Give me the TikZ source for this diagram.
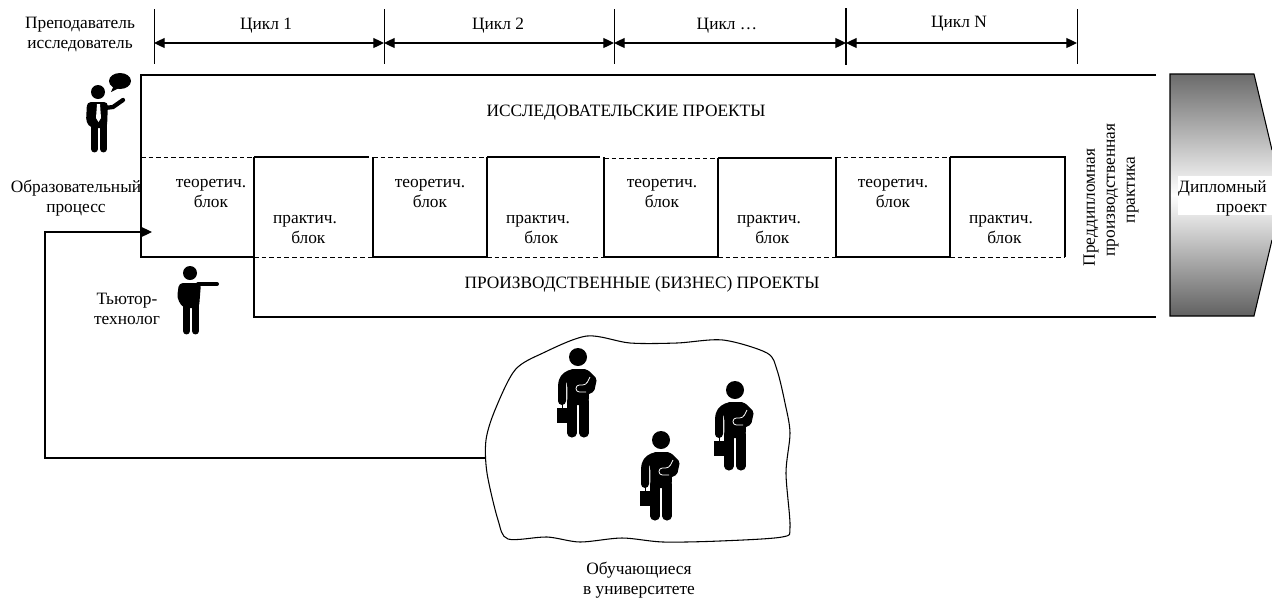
\documentclass[tikz,border=0pt]{standalone}
\usepackage{fontspec}
\setmainfont{Liberation Serif}
\usetikzlibrary{calc, arrows.meta}

\tikzset{
    label_text/.style = {align = center, font = \fontsize{13}{15}\selectfont, inner sep = 0pt},
    main_line/.style = {black, line width = 0.8pt},
    cut_line/.style = {black, line width = 0.7pt, dash pattern = on 3.5pt off 2.2pt},
    cycle_span/.style = {black, line width = 0.9pt, {Triangle[length = 8pt, width = 7.5pt]}-{Triangle[length = 8pt, width = 7.5pt]}},
    pics/head_body/.style = {code = {
        \fill (0, 0) circle (9);
        \draw[line width = 6.8pt, line cap = round] (-6, 44) -- (-6, 76);
        \draw[line width = 6.8pt, line cap = round] (6, 44) -- (6, 76);
        \fill[rounded corners = 4pt] (-11, 12) -- (12, 12) -- (10.5, 48) -- (-10.5, 48) -- cycle;
    }},
    pics/student/.style = {code = {
        \pic {head_body};
        \draw[line width = 6pt, line cap = round, line join = round] (-8, 17) .. controls (-13, 19) and (-16, 23) .. (-16, 29) -- (-16, 44);
        \draw[line width = 5.4pt, line cap = round, line join = round] (9, 17) -- (15, 23) -- (13, 32) -- (5, 36);
        \draw[line width = 0.7pt] (-16, 46) -- (-16, 52);
        \fill (-21, 51) rectangle (-11, 66);
        \draw[white, line width = 0.6pt, rounded corners = 2.5pt] (8, 35) -- (-2, 35) -- (-2, 28) -- (8, 28) -- (12, 20);
    }}
}

\begin{document}
\begin{tikzpicture}[x = 0.75pt, y = -0.75pt]
    \useasboundingbox (0, 0) rectangle (1272, 597);

    % cycles along the top
    \coordinate (tick_a) at (154, 43);
    \coordinate (tick_b) at (384, 43);
    \coordinate (tick_c) at (614, 43);
    \coordinate (tick_d) at (846, 43);
    \coordinate (tick_e) at (1077, 43);

    \draw[black, line width = 0.7pt] (154, 9) -- (154, 64);
    \draw[black, line width = 0.7pt] (384, 9) -- (384, 64);
    \draw[black, line width = 0.7pt] (614, 9) -- (614, 64);
    \draw[black, line width = 1.3pt] (846, 8) -- (846, 65);
    \draw[black, line width = 0.7pt] (1077, 9) -- (1077, 64);

    \draw[cycle_span] (tick_a) -- (tick_b);
    \draw[cycle_span] (tick_b) -- (tick_c);
    \draw[cycle_span] (tick_c) -- (tick_d);
    \draw[cycle_span] (tick_d) -- (tick_e);

    \node[label_text] (cycle_a) at (266, 26) {Цикл 1};
    \node[label_text] (cycle_b) at (498, 26) {Цикл 2};
    \node[label_text] (cycle_c) at (727, 26) {Цикл …};
    \node[label_text] (cycle_d) at (959, 24) {Цикл N};

    % outer frame of the projects
    \draw[main_line] (1156, 75) -- (141, 75) -- (141, 257) -- (254, 257);
    \draw[main_line] (1156, 317) -- (254, 317) -- (254, 157);

    % blocks
    \draw[cut_line] (141, 157) -- (254, 157);
    \draw[main_line] (254, 157) -- (369, 157);
    \draw[cut_line] (373, 157) -- (487, 157);
    \draw[main_line] (487, 157) -- (600, 157);
    \draw[cut_line] (604, 158) -- (718, 158);
    \draw[main_line] (718, 158) -- (832, 158);
    \draw[cut_line] (836, 157) -- (950, 157);
    \draw[main_line] (950, 157) -- (1065, 157) -- (1065, 257);

    \draw[cut_line] (254, 257) -- (373, 257);
    \draw[main_line] (373, 157) -- (373, 257) -- (487, 257) -- (487, 157);
    \draw[cut_line] (487, 257) -- (604, 257);
    \draw[main_line] (604, 157) -- (604, 257) -- (718, 257) -- (718, 158);
    \draw[cut_line] (718, 257) -- (836, 257);
    \draw[main_line] (836, 157) -- (836, 257) -- (950, 257) -- (950, 157);
    \draw[cut_line] (950, 257) -- (1065, 257);

    \node[label_text] (theory_a) at (211, 193.5) {теоретич.\\блок};
    \node[label_text] (theory_b) at (430, 193.5) {теоретич.\\блок};
    \node[label_text] (theory_c) at (662, 193.5) {теоретич.\\блок};
    \node[label_text] (theory_d) at (893, 193.5) {теоретич.\\блок};
    \node[label_text] (practice_a) at (305, 229) {практич.\\\hspace*{5pt}блок};
    \node[label_text] (practice_b) at (538, 229) {практич.\\\hspace*{5pt}блок};
    \node[label_text] (practice_c) at (769, 229) {практич.\\\hspace*{5pt}блок};
    \node[label_text] (practice_d) at (1001, 229) {практич.\\\hspace*{5pt}блок};

    \node[label_text] (research) at (626, 113) {ИССЛЕДОВАТЕЛЬСКИЕ ПРОЕКТЫ};
    \node[label_text] (business) at (642, 284) {ПРОИЗВОДСТВЕННЫЕ (БИЗНЕС) ПРОЕКТЫ};
    \node[label_text, rotate = 90] (practice_pre) at (1111, 190) {Преддипломная\hspace*{26pt}\\производственная\\практика};

    % diploma project
    \shade[top color = black!58, bottom color = black!62, middle color = white] (1170, 74) -- (1254, 74) -- (1272, 150) -- (1272, 240) -- (1254, 316) -- (1170, 316) -- cycle;
    \draw[main_line] (1272, 150) -- (1254, 74) -- (1170, 74) -- (1170, 316) -- (1254, 316) -- (1272, 240);
    \fill[white] (1178, 176) rectangle (1272, 215);
    \node[label_text, align = right, anchor = east] (diploma) at (1267, 198) {Дипломный\\проект};

    % people and their labels
    \node[label_text] (teacher) at (80, 34) {Преподаватель\\исследователь};
    \node[label_text] (process) at (76, 198.5) {Образовательный\\процесс};
    \node[label_text] (tutor) at (127, 309) {Тьютор-\\технолог};
    \node[label_text] (learners) at (639, 580) {Обучающиеся\\в университете};

    % teacher figure
    \fill (98, 92) circle (7);
    \fill[rounded corners = 3pt] (87, 102) -- (108, 102) -- (107, 128) -- (91, 128) -- (86, 122) -- cycle;
    \draw[line width = 5.2pt, line cap = round] (94.5, 125) -- (94.5, 149);
    \draw[line width = 5.2pt, line cap = round] (103.5, 125) -- (103.5, 149);
    \draw[line width = 3.2pt, line cap = round] (105, 108) -- (113, 107) -- (123, 100);
    \fill[white] (97, 104) -- (100, 104) -- (101, 118) -- (98.5, 122) -- (96, 118) -- cycle;
    \fill (120, 81) ellipse (11 and 8);
    \fill (114, 85) -- (119, 88) -- (111, 92) -- cycle;

    % tutor figure
    \fill (190, 273) circle (7);
    \fill[rounded corners = 3pt] (179, 283) -- (201, 283) -- (199, 308) -- (183, 308) -- (177, 298) -- cycle;
    \draw[line width = 5.2pt, line cap = round] (186.5, 305) -- (186.5, 331);
    \draw[line width = 5.2pt, line cap = round] (195.5, 305) -- (195.5, 331);
    \draw[line width = 3pt, line cap = round] (198, 284) -- (217, 284);

    % learners
    \draw[main_line, smooth cycle, tension = 0.5] plot coordinates {(587, 336) (630, 343) (677, 343) (723, 340) (767, 353) (777, 370) (785, 403) (790, 433) (786, 473) (790, 527) (782, 537) (720, 541) (663, 542) (622, 538) (580, 542) (547, 537) (508, 539) (498, 520) (487, 473) (486, 440) (495, 410) (515, 370) (543, 353)};
    \pic at (578, 357) {student};
    \pic at (661, 440) {student};
    \pic at (735, 390) {student};

    % path back into the process
    \coordinate (blob_in) at (486, 458);
    \coordinate (process_turn) at (45, 232);
    \coordinate (process_in) at (152, 232);
    \draw[main_line, -{Triangle[length = 8pt, width = 7.5pt]}] (blob_in) -| (process_turn) -- (process_in);
\end{tikzpicture}
\end{document}
